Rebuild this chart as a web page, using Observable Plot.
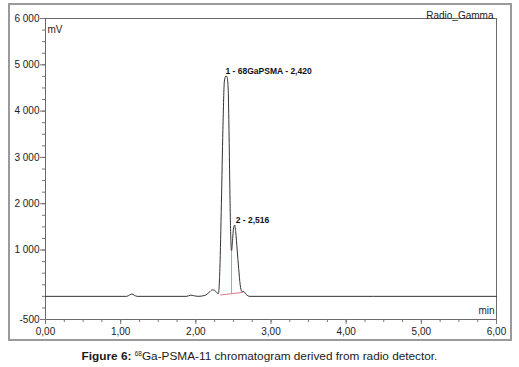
<!DOCTYPE html>
<html>
<head>
<meta charset="utf-8">
<script src="https://cdn.jsdelivr.net/npm/d3@7"></script>
<script src="https://cdn.jsdelivr.net/npm/@observablehq/plot@0.6"></script>
<style>
  html, body { margin: 0; padding: 0; background: #fff; }
  #wrap { position: relative; width: 519px; height: 367px; font-family: "Liberation Sans", Arial, sans-serif; }
  #border { position: absolute; left: 8px; top: 3px; width: 500px; height: 334px; border: 2px solid #9a9a9a; box-sizing: content-box; pointer-events: none; }
  #caption { position: absolute; left: 0; top: 349px; width: 519px; text-align: center; font-size: 11.8px; color: #1a1a1a; }
  #caption sup { font-size: 6.5px; vertical-align: 4px; }
</style>
</head>
<body>
<div id="wrap">
  <div id="chart"></div>
  <div id="border"></div>
  <div id="caption"><b>Figure 6:</b> <sup>68</sup>Ga-PSMA-11 chromatogram derived from radio detector.</div>
</div>
<script>
// Retention time (min) and signal (mV)
const timeMin = [0.00, 1.08, 1.12, 1.15, 1.18, 1.22, 1.88, 1.93, 1.97, 2.03, 2.12, 2.18, 2.22, 2.25, 2.28, 2.30, 2.32, 2.34, 2.36, 2.38, 2.40, 2.415, 2.43, 2.44, 2.45, 2.46, 2.475, 2.49, 2.50, 2.516, 2.53, 2.55, 2.57, 2.59, 2.61, 2.64, 2.67, 2.72, 6.00];
const signalMV = [0, 0, 30, 50, 25, 0, 0, 25, 15, 0, 20, 90, 140, 130, 80, 60, 600, 2000, 3600, 4650, 4760, 4740, 4500, 3700, 2600, 1600, 980, 1250, 1450, 1540, 1400, 1000, 600, 250, 110, 100, 40, 0, 0];

// Integration baseline and peak split
const baseTime = [2.33, 2.62];
const baseMV = [30, 85];
const splitTime = [2.475, 2.475];
const splitMV = [55, 980];

// Peak labels
const peakLabels = ["1 - 68GaPSMA - 2,420", "2 - 2,516"];
const peakLabelTime = [2.395, 2.53];
const peakLabelMV = [4850, 1640];

// Axis ticks
const xTicks = [0, 1, 2, 3, 4, 5, 6];
const xMinorTicks = d3.range(0, 6.001, 0.25);
const yTicks = [6000, 5000, 4000, 3000, 2000, 1000, -500];
const yMinorTicks = d3.range(-500, 6001, 250);

const signal = timeMin.map((t, i) => ({t, v: signalMV[i]}));
const base = baseTime.map((t, i) => ({t, v: baseMV[i]}));
const split = splitTime.map((t, i) => ({t, v: splitMV[i]}));
const labels = peakLabels.map((s, i) => ({s, t: peakLabelTime[i], v: peakLabelMV[i]}));

const fmtY = d => (d < 0 ? "-" : "") + String(Math.abs(d)).replace(/\B(?=(\d{3})+(?!\d))/g, " ");
const fmtX = d => d.toFixed(2).replace(".", ",");

const chart = Plot.plot({
  width: 519,
  height: 342,
  marginLeft: 45,
  marginRight: 23,
  marginTop: 18,
  marginBottom: 23,
  style: {fontFamily: "Liberation Sans, Arial, sans-serif", fontSize: "10px", color: "#222", background: "transparent"},
  x: {domain: [0, 6], axis: null, label: null},
  y: {domain: [-500, 6000], axis: null, label: null},
  marks: [
    Plot.frame({stroke: "#6a6a6a", strokeWidth: 1}),
    Plot.axisY(yMinorTicks, {tickSize: 3, tickFormat: () => "", label: null, stroke: "#777"}),
    Plot.axisY(yTicks, {tickSize: 5, tickPadding: 1, tickFormat: fmtY, label: null, stroke: "#777", fill: "#222"}),
    Plot.axisX(xMinorTicks, {tickSize: 3, tickFormat: () => "", label: null, stroke: "#777"}),
    Plot.axisX(xTicks, {tickSize: 5, tickPadding: 3, tickFormat: fmtX, label: null, stroke: "#777", fill: "#222"}),
    Plot.line(base, {x: "t", y: "v", stroke: "#e07a80", strokeWidth: 1}),
    Plot.line(signal, {x: "t", y: "v", stroke: "#333", strokeWidth: 1, curve: "monotone-x"}),
    Plot.line(split, {x: "t", y: "v", stroke: "#55c8dc", strokeWidth: 1}),
    Plot.text(labels, {x: "t", y: "v", text: "s", textAnchor: "start", fontWeight: "bold", fontSize: 8.5, fill: "#111"}),
    Plot.text(["mV"], {frameAnchor: "top-left", dx: 2, dy: 7, textAnchor: "start", fontSize: 10, fill: "#222"}),
    Plot.text(["min"], {frameAnchor: "bottom-right", dx: -2, dy: -6, textAnchor: "end", fontSize: 10, fill: "#222"}),
    Plot.text(["Radio_Gamma"], {frameAnchor: "top-right", dx: -3, dy: -7, textAnchor: "end", fontSize: 10, fill: "#222"})
  ]
});
document.getElementById("chart").appendChild(chart);
</script>
</body>
</html>
